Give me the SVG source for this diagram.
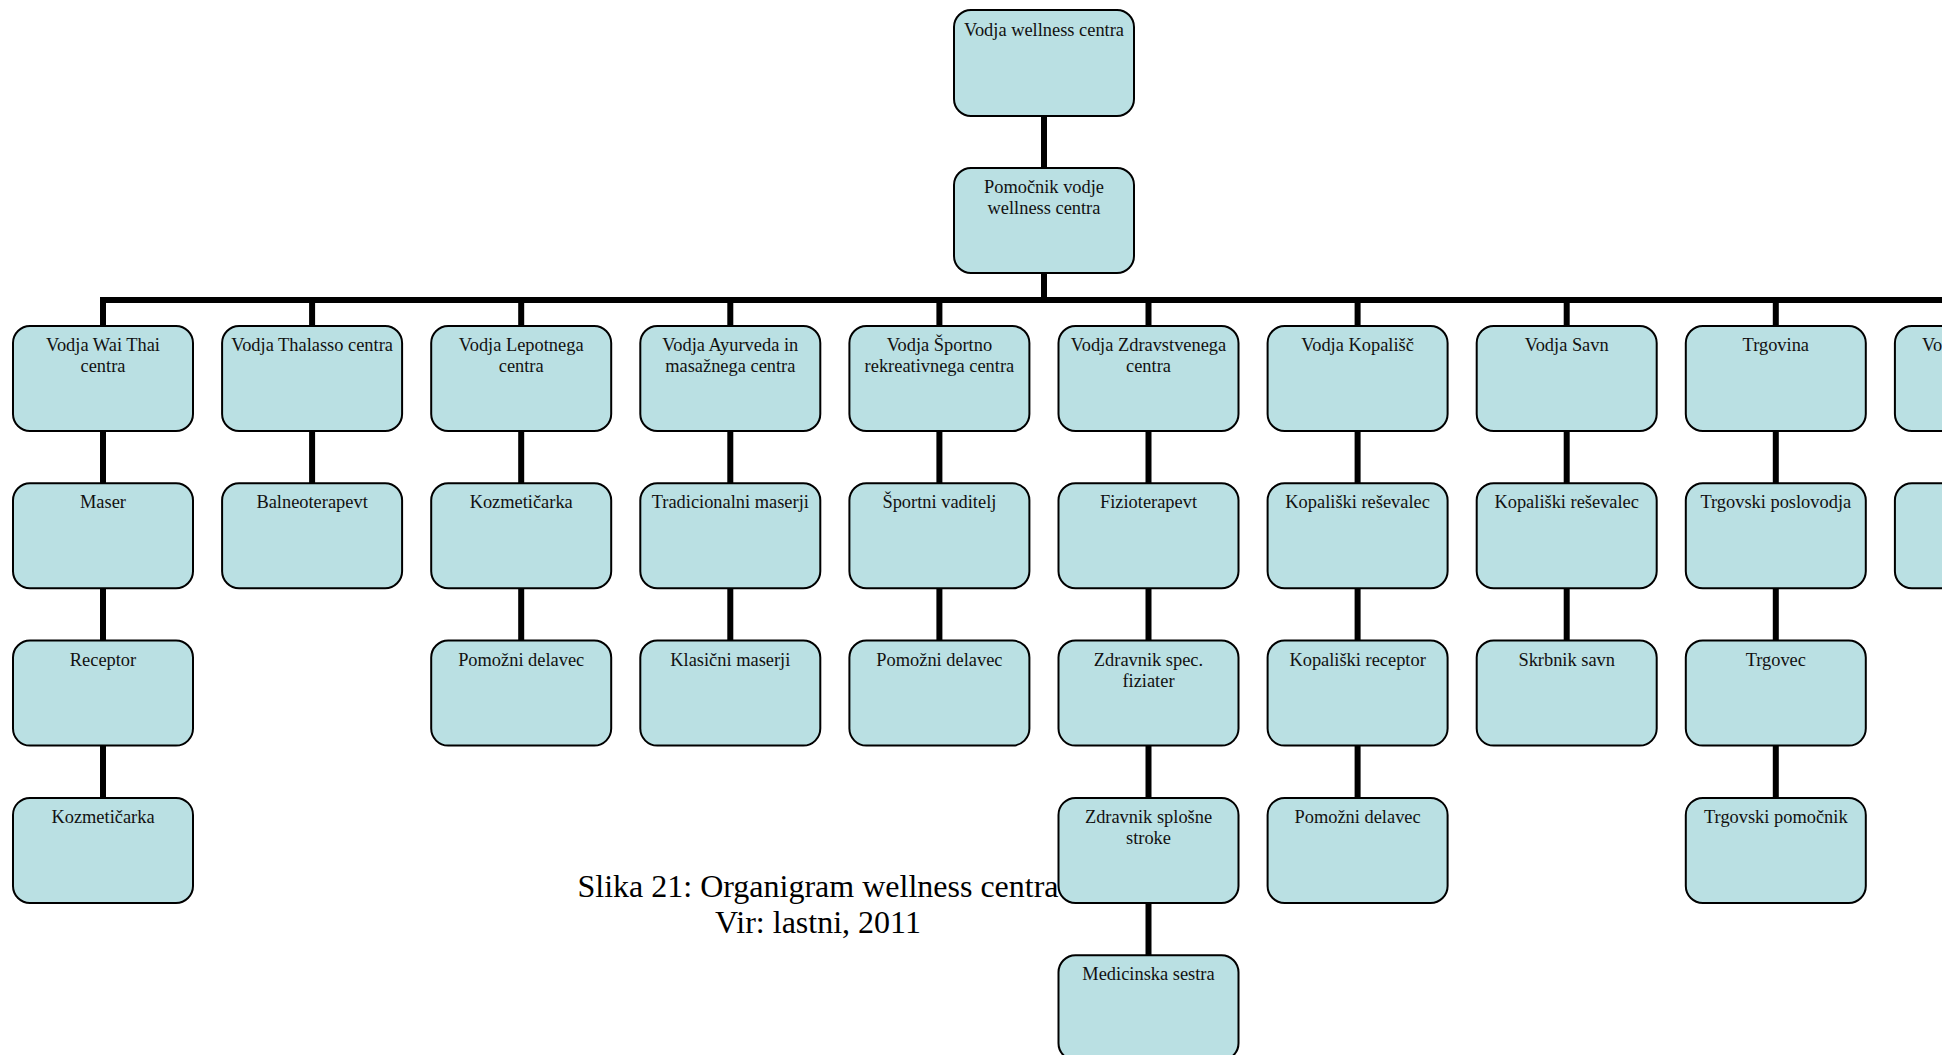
<svg xmlns="http://www.w3.org/2000/svg" width="1942" height="1055" viewBox="0 0 1942 1055">
<style>
.box{fill:#BAE0E3;stroke:#000;stroke-width:2}
.lbl{font-family:"Liberation Serif","Times New Roman",serif;font-size:18.4px;text-anchor:middle;fill:#111}
.cap{font-family:"Liberation Serif","Times New Roman",serif;font-size:32px;text-anchor:middle;fill:#000}
.conn{stroke:#000;stroke-width:6;fill:none}
</style>
<rect width="1942" height="1055" fill="#fff"/>
<g id="caption">
<text class="cap" x="818" y="897">Slika 21: Organigram wellness centra</text>
<text class="cap" x="818" y="933">Vir: lastni, 2011</text>
</g>
<g id="connectors">
<path class="conn" d="M1044 116V168M1044 273V300M103 300H1942"/>
<path class="conn" d="M103 297V326M312.1 297V326M521.2 297V326M730.3 297V326M939.4 297V326M1148.5 297V326M1357.6 297V326M1566.7 297V326M1775.8 297V326M1984.9 297V326"/>
<path class="conn" d="M103 431V483.3M103 588.3V640.6M103 745.6V797.9"/>
<path class="conn" d="M312.1 431V483.3"/>
<path class="conn" d="M521.2 431V483.3M521.2 588.3V640.6"/>
<path class="conn" d="M730.3 431V483.3M730.3 588.3V640.6"/>
<path class="conn" d="M939.4 431V483.3M939.4 588.3V640.6"/>
<path class="conn" d="M1148.5 431V483.3M1148.5 588.3V640.6M1148.5 745.6V797.9M1148.5 902.9V955.2"/>
<path class="conn" d="M1357.6 431V483.3M1357.6 588.3V640.6M1357.6 745.6V797.9"/>
<path class="conn" d="M1566.7 431V483.3M1566.7 588.3V640.6"/>
<path class="conn" d="M1775.8 431V483.3M1775.8 588.3V640.6M1775.8 745.6V797.9"/>
<path class="conn" d="M1984.9 431V483.3"/>
</g>
<g id="n-vodja">
<rect class="box" x="954" y="10" width="180" height="106" rx="17"/>
<text class="lbl" x="1044" y="36">Vodja wellness centra</text>
</g>
<g id="n-pomocnik">
<rect class="box" x="954" y="168" width="180" height="105" rx="17"/>
<text class="lbl" x="1044" y="193">Pomočnik vodje</text>
<text class="lbl" x="1044" y="214">wellness centra</text>
</g>
<!-- column 0 -->
<g id="n-waithai">
<rect class="box" x="13" y="326" width="180" height="105" rx="17"/>
<text class="lbl" x="103" y="351">Vodja Wai Thai</text>
<text class="lbl" x="103" y="372">centra</text>
</g>
<g id="n-maser">
<rect class="box" x="13" y="483.3" width="180" height="105" rx="17"/>
<text class="lbl" x="103" y="508.3">Maser</text>
</g>
<g id="n-receptor">
<rect class="box" x="13" y="640.6" width="180" height="105" rx="17"/>
<text class="lbl" x="103" y="665.6">Receptor</text>
</g>
<g id="n-kozmeticarka1">
<rect class="box" x="13" y="797.9" width="180" height="105" rx="17"/>
<text class="lbl" x="103" y="822.9">Kozmetičarka</text>
</g>
<!-- column 1 -->
<g id="n-thalasso">
<rect class="box" x="222.1" y="326" width="180" height="105" rx="17"/>
<text class="lbl" x="312.1" y="351">Vodja Thalasso centra</text>
</g>
<g id="n-balneo">
<rect class="box" x="222.1" y="483.3" width="180" height="105" rx="17"/>
<text class="lbl" x="312.1" y="508.3">Balneoterapevt</text>
</g>
<!-- column 2 -->
<g id="n-lepotni">
<rect class="box" x="431.2" y="326" width="180" height="105" rx="17"/>
<text class="lbl" x="521.2" y="351">Vodja Lepotnega</text>
<text class="lbl" x="521.2" y="372">centra</text>
</g>
<g id="n-kozmeticarka2">
<rect class="box" x="431.2" y="483.3" width="180" height="105" rx="17"/>
<text class="lbl" x="521.2" y="508.3">Kozmetičarka</text>
</g>
<g id="n-pomozni1">
<rect class="box" x="431.2" y="640.6" width="180" height="105" rx="17"/>
<text class="lbl" x="521.2" y="665.6">Pomožni delavec</text>
</g>
<!-- column 3 -->
<g id="n-ayurveda">
<rect class="box" x="640.3" y="326" width="180" height="105" rx="17"/>
<text class="lbl" x="730.3" y="351">Vodja Ayurveda in</text>
<text class="lbl" x="730.3" y="372">masažnega centra</text>
</g>
<g id="n-tradicionalni">
<rect class="box" x="640.3" y="483.3" width="180" height="105" rx="17"/>
<text class="lbl" x="730.3" y="508.3">Tradicionalni maserji</text>
</g>
<g id="n-klasicni">
<rect class="box" x="640.3" y="640.6" width="180" height="105" rx="17"/>
<text class="lbl" x="730.3" y="665.6">Klasični maserji</text>
</g>
<!-- column 4 -->
<g id="n-sportno">
<rect class="box" x="849.4" y="326" width="180" height="105" rx="17"/>
<text class="lbl" x="939.4" y="351">Vodja Športno</text>
<text class="lbl" x="939.4" y="372">rekreativnega centra</text>
</g>
<g id="n-vaditelj">
<rect class="box" x="849.4" y="483.3" width="180" height="105" rx="17"/>
<text class="lbl" x="939.4" y="508.3">Športni vaditelj</text>
</g>
<g id="n-pomozni2">
<rect class="box" x="849.4" y="640.6" width="180" height="105" rx="17"/>
<text class="lbl" x="939.4" y="665.6">Pomožni delavec</text>
</g>
<!-- column 5 -->
<g id="n-zdravstveni">
<rect class="box" x="1058.5" y="326" width="180" height="105" rx="17"/>
<text class="lbl" x="1148.5" y="351">Vodja Zdravstvenega</text>
<text class="lbl" x="1148.5" y="372">centra</text>
</g>
<g id="n-fizioterapevt">
<rect class="box" x="1058.5" y="483.3" width="180" height="105" rx="17"/>
<text class="lbl" x="1148.5" y="508.3">Fizioterapevt</text>
</g>
<g id="n-fiziater">
<rect class="box" x="1058.5" y="640.6" width="180" height="105" rx="17"/>
<text class="lbl" x="1148.5" y="665.6">Zdravnik spec.</text>
<text class="lbl" x="1148.5" y="686.6">fiziater</text>
</g>
<g id="n-splosni">
<rect class="box" x="1058.5" y="797.9" width="180" height="105" rx="17"/>
<text class="lbl" x="1148.5" y="822.9">Zdravnik splošne</text>
<text class="lbl" x="1148.5" y="843.9">stroke</text>
</g>
<g id="n-sestra">
<rect class="box" x="1058.5" y="955.2" width="180" height="105" rx="17"/>
<text class="lbl" x="1148.5" y="980.2">Medicinska sestra</text>
</g>
<!-- column 6 -->
<g id="n-kopalisc">
<rect class="box" x="1267.6" y="326" width="180" height="105" rx="17"/>
<text class="lbl" x="1357.6" y="351">Vodja Kopališč</text>
</g>
<g id="n-resevalec1">
<rect class="box" x="1267.6" y="483.3" width="180" height="105" rx="17"/>
<text class="lbl" x="1357.6" y="508.3">Kopališki reševalec</text>
</g>
<g id="n-kopreceptor">
<rect class="box" x="1267.6" y="640.6" width="180" height="105" rx="17"/>
<text class="lbl" x="1357.6" y="665.6">Kopališki receptor</text>
</g>
<g id="n-pomozni3">
<rect class="box" x="1267.6" y="797.9" width="180" height="105" rx="17"/>
<text class="lbl" x="1357.6" y="822.9">Pomožni delavec</text>
</g>
<!-- column 7 -->
<g id="n-savn">
<rect class="box" x="1476.7" y="326" width="180" height="105" rx="17"/>
<text class="lbl" x="1566.7" y="351">Vodja Savn</text>
</g>
<g id="n-resevalec2">
<rect class="box" x="1476.7" y="483.3" width="180" height="105" rx="17"/>
<text class="lbl" x="1566.7" y="508.3">Kopališki reševalec</text>
</g>
<g id="n-skrbnik">
<rect class="box" x="1476.7" y="640.6" width="180" height="105" rx="17"/>
<text class="lbl" x="1566.7" y="665.6">Skrbnik savn</text>
</g>
<!-- column 8 -->
<g id="n-trgovina">
<rect class="box" x="1685.8" y="326" width="180" height="105" rx="17"/>
<text class="lbl" x="1775.8" y="351">Trgovina</text>
</g>
<g id="n-poslovodja">
<rect class="box" x="1685.8" y="483.3" width="180" height="105" rx="17"/>
<text class="lbl" x="1775.8" y="508.3">Trgovski poslovodja</text>
</g>
<g id="n-trgovec">
<rect class="box" x="1685.8" y="640.6" width="180" height="105" rx="17"/>
<text class="lbl" x="1775.8" y="665.6">Trgovec</text>
</g>
<g id="n-pomocnik-trg">
<rect class="box" x="1685.8" y="797.9" width="180" height="105" rx="17"/>
<text class="lbl" x="1775.8" y="822.9">Trgovski pomočnik</text>
</g>
<!-- column 9 (cut off) -->
<g id="n-col9-a">
<rect class="box" x="1894.9" y="326" width="180" height="105" rx="17"/>
<text class="lbl" x="1922" y="351" style="text-anchor:start">Vo</text>
</g>
<g id="n-col9-b">
<rect class="box" x="1894.9" y="483.3" width="180" height="105" rx="17"/>
</g>
</svg>
